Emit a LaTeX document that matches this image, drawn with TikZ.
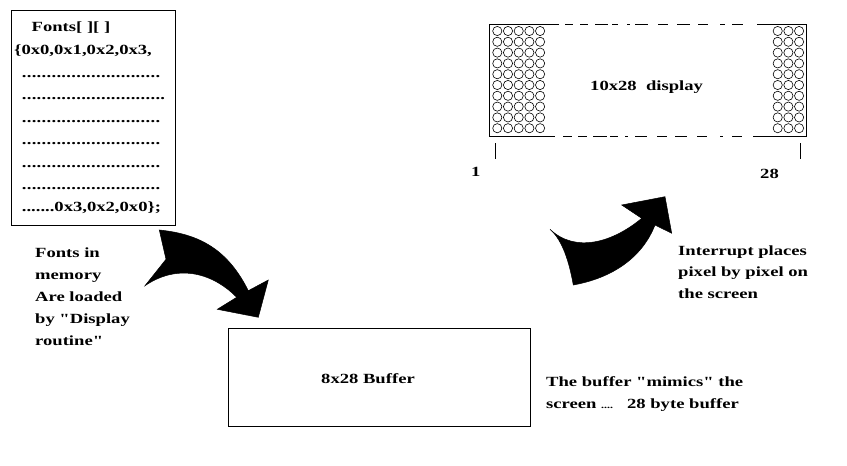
\documentclass[tikz,border=0pt]{standalone}
\usepackage{fontspec}
\setmainfont{Liberation Serif}[FakeStretch=1.33, Ligatures=TeXOff]
\newcount\mydotcnt
\newcommand\mydots[1]{\mydotcnt=0 \loop\ifnum\mydotcnt<#1 \makebox[4.95pt][l]{.}\advance\mydotcnt by 1 \repeat}
\tikzset{
  txt/.style={anchor=base west, inner sep=0pt, font=\fontsize{14}{22}\selectfont\bfseries},
  frame/.style={draw=black, line width=1pt},
  led/.style={draw=black, line width=0.6pt},
  bigarrow/.style={fill=black, draw=black, line width=0.5pt}
}
\begin{document}
\begin{tikzpicture}[x=1pt, y=-1pt]
\useasboundingbox (0,0) rectangle (847,466);
% Fonts box
\draw[frame, line width=1.2pt] (11.7,10.5) rectangle (175.7,225.7);
\node[txt] (f0) at (31.5,31.5) {Fonts[ ][ ]};
\node[txt] (f1) at (14,54.5) {\{0x0,0x1,0x2,0x3,};
\node[txt] (f2) at (21.7,77) {\mydots{28}};
\node[txt] (f3) at (21.7,99.5) {\mydots{29}};
\node[txt] (f4) at (21.7,122) {\mydots{28}};
\node[txt] (f5) at (21.7,144.5) {\mydots{28}};
\node[txt] (f6) at (21.7,167) {\mydots{28}};
\node[txt] (f7) at (21.7,189.5) {\mydots{28}};
\node[txt] (f8) at (21.7,211.5) {.......0x3,0x2,0x0\};};
% left text
\node[txt] (l1) at (35,257) {Fonts in};
\node[txt] (l2) at (35,279) {memory};
\node[txt] (l3) at (35,301) {Are loaded};
\node[txt] (l4) at (35,323) {by "Display};
\node[txt] (l5) at (35,345) {routine"};
% left arrow
\path[bigarrow] (159.3,230) .. controls (200,234) and (228,250) .. (248.3,290.7)
  -- (268.3,280) -- (258.3,317.3) -- (217.3,309.3) -- (236.7,297.3)
  .. controls (215,275) and (180,262) .. (145,285.7)
  -- (166,259.3) -- cycle;
% buffer
\draw[frame] (228.3,328.3) rectangle (530.7,426);
\node[txt] (buf) at (321,383.3) {8x28 Buffer};
\node[txt] (b1) at (546,386.7) {The buffer "mimics" the};
\node[txt] (b2) at (546,408.5) {screen {\fontsize{9}{9}\selectfont ....}\ \ \ 28 byte buffer};
% right arrow
\path[bigarrow] (550,229.3) .. controls (575,253) and (612,243) .. (641.7,218.3)
  -- (621.7,205) -- (665,196.7) -- (671.7,233.3) -- (655,225)
  .. controls (642,258) and (612,278) .. (573.3,285)
  .. controls (568,255) and (560,238) .. cycle;
\node[txt] (r1) at (678,255) {Interrupt places};
\node[txt] (r2) at (678,276.7) {pixel by pixel on};
\node[txt] (r3) at (678,298.3) {the screen};
% display
\draw[frame] (559,24.7) -- (489,24.7) -- (489,136) -- (555,136);
\draw[frame] (757,24.7) -- (806,24.7) -- (806,136) -- (753,136);
\foreach \a/\b in {565/573,580/588,595/608,612/618,627/630,635/648,658/668,677/690,698/708,720/725,732/743}
  \draw[frame] (\a,24.7) -- (\b,24.7);
\foreach \a/\b in {563/572,578/587,593/607,610/618,625/628,635/647,657/667,675/687,697/707,720/723,732/742}
  \draw[frame] (\a,136) -- (\b,136);
\foreach \r in {0,...,9} {
  \foreach \c in {0,...,4}
    \draw[led] (497.3+10.7*\c, 31+10.8*\r) circle (4.6);
  \foreach \c in {0,1,2}
    \draw[led] (777.7+10.7*\c, 31+10.8*\r) circle (4.6);
}
\node[txt] (disp) at (590,90) {10x28\ \ display};
\coordinate (t1a) at (495,143.3);
\coordinate (t1b) at (495,159.3);
\coordinate (t2a) at (800,143.3);
\coordinate (t2b) at (800,159.3);
\draw[frame] (t1a) -- (t1b);
\draw[frame] (t2a) -- (t2b);
\node[txt] (n1) at (471,176) {1};
\node[txt] (n28) at (760,178) {28};
\end{tikzpicture}
\end{document}
